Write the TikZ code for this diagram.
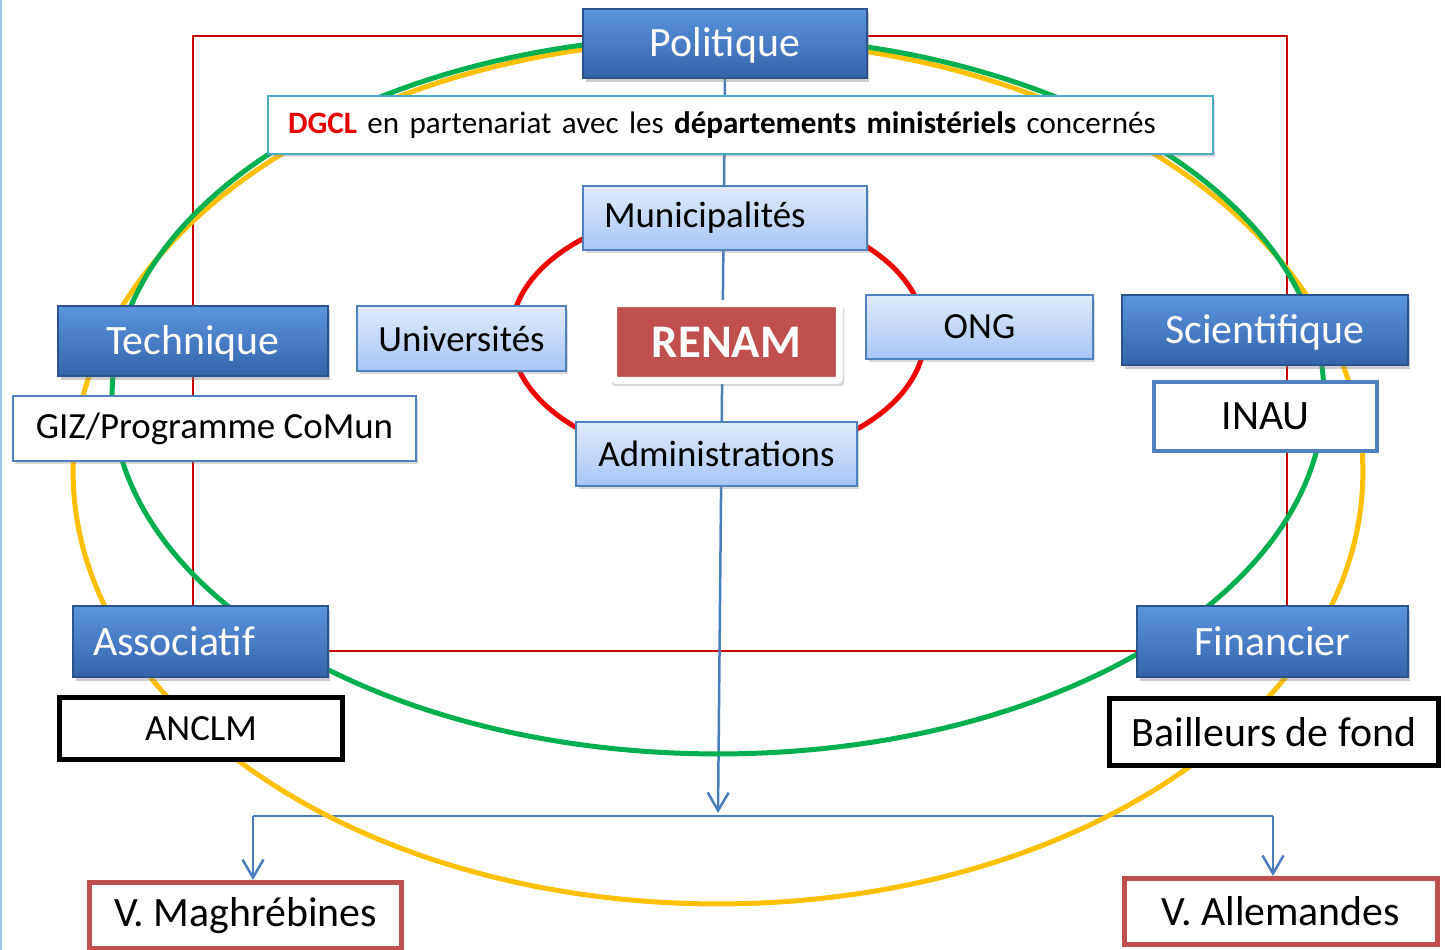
\documentclass[tikz,border=0pt]{standalone}
\usepackage{fontspec}
\setmainfont{Carlito}
\usetikzlibrary{shadows, backgrounds, arrows.meta}

\definecolor{poletop}{RGB}{92, 148, 222}
\definecolor{polebot}{RGB}{52, 100, 170}
\definecolor{poleedge}{RGB}{44, 84, 140}
\definecolor{acttop}{RGB}{224, 235, 252}
\definecolor{actbot}{RGB}{166, 198, 245}
\definecolor{actedge}{RGB}{79, 129, 189}
\definecolor{dgcledge}{RGB}{75, 172, 198}
\definecolor{dgclred}{RGB}{230, 0, 0}
\definecolor{renamred}{RGB}{192, 80, 77}
\definecolor{framered}{RGB}{200, 0, 0}
\definecolor{ringgreen}{RGB}{0, 176, 80}
\definecolor{ringyellow}{RGB}{255, 192, 0}
\definecolor{ringred}{RGB}{240, 0, 0}
\definecolor{linkblue}{RGB}{74, 126, 187}
\definecolor{edgeblue}{RGB}{160, 196, 236}

\begin{document}
\begin{tikzpicture}[x = 0.02cm, y = -0.02cm,
		grand/.style = {font = \fontsize{23.8}{28}\selectfont},
		moyen/.style = {font = \fontsize{21}{25}\selectfont},
		pole/.style = {grand, rectangle, draw = poleedge, line width = 0.8pt, top color = poletop, bottom color = polebot, text = white, text height = 0.54cm, text depth = 0cm, drop shadow = {opacity = 0.4, shadow xshift = 0.05cm, shadow yshift = -0.08cm}},
		acteur/.style = {moyen, rectangle, draw = actedge, line width = 1.2pt, top color = acttop, bottom color = actbot, drop shadow = {opacity = 0.3, shadow xshift = 0.05cm, shadow yshift = -0.07cm}},
		membre/.style = {rectangle, fill = white, draw = #1},
		renam/.style = {rectangle, fill = renamred, draw = white, line width = 0.14cm, rounded corners = 0.06cm, text = white, font = \fontsize{26.6}{30}\selectfont\bfseries, drop shadow = {opacity = 0.3, shadow scale = 1.03, shadow xshift = 0.03cm, shadow yshift = -0.08cm}},
		link/.style = {draw = linkblue, line width = 0.05cm},
		tip/.style = {-{Straight Barb[length = 0.36cm, width = 0.42cm]}},
		ring/.style = {line width = 0.1cm}]
	\useasboundingbox (0, 0) rectangle (1445, 950);

	% poles
	\node[pole, minimum width = 5.68cm, minimum height = 1.38cm] (pol) at (725, 43.5) {Politique};
	\node[pole, minimum width = 5.4cm, minimum height = 1.4cm] (tech) at (193, 341) {Technique};
	\node[pole, minimum width = 5.72cm, minimum height = 1.4cm] (sci) at (1265, 330) {Scientifique};
	\node[pole, minimum width = 5.1cm, minimum height = 1.42cm, text width = 4.3cm, inner xsep = 0.4cm, align = left] (asso) at (200.5, 641.5) {Associatif};
	\node[pole, minimum width = 5.42cm, minimum height = 1.42cm] (fin) at (1272.5, 641.5) {Financier};

	% acteurs
	\node[membre = dgcledge, line width = 1.2pt, minimum height = 1.16cm, text width = 18.1cm, inner xsep = 0.4cm, align = left, font = \fontsize{17.7}{21}\selectfont, drop shadow = {opacity = 0.3, shadow xshift = 0.05cm, shadow yshift = -0.06cm}] (dgcl) at (740.5, 125)
		{{\color{dgclred}\bfseries DGCL} en partenariat avec les \textbf{départements ministériels} concernés};
	\node[acteur, minimum height = 1.28cm, text width = 4.84cm, inner xsep = 0.42cm, align = left] (muni) at (725, 218) {Municipalités};
	\node[acteur, minimum width = 4.18cm, minimum height = 1.3cm] (univ) at (461.5, 338.5) {Universités};
	\node[acteur, minimum width = 4.54cm, minimum height = 1.28cm] (ong) at (979.5, 327) {ONG};
	\node[acteur, minimum width = 5.62cm, minimum height = 1.28cm] (admin) at (716.5, 454) {Administrations};
	\node[renam, minimum width = 4.52cm, minimum height = 1.54cm] (renam) at (726.5, 342) {RENAM};

	% membres
	\node[membre = actedge, moyen, line width = 1.2pt, minimum width = 8.06cm, minimum height = 1.3cm, drop shadow = {opacity = 0.3, shadow xshift = 0.04cm, shadow yshift = -0.06cm}] (giz) at (214.5, 428.5) {GIZ/Programme CoMun};
	\node[membre = actedge, grand, line width = 0.08cm, minimum width = 4.46cm, minimum height = 1.38cm] (inau) at (1265.5, 416.5) {INAU};
	\node[membre = black, moyen, line width = 0.1cm, minimum width = 5.66cm, minimum height = 1.24cm] (anclm) at (201, 728.5) {ANCLM};
	\node[membre = black, grand, line width = 0.1cm, minimum width = 6.58cm, minimum height = 1.34cm] (bail) at (1274, 732) {Bailleurs de fond};
	\node[membre = renamred, grand, line width = 0.1cm, minimum width = 6.24cm, minimum height = 1.32cm] (magh) at (245.5, 915.5) {V. Maghrébines};
	\node[membre = renamred, grand, line width = 0.1cm, minimum width = 6.26cm, minimum height = 1.32cm] (alle) at (1281, 911.5) {V. Allemandes};

	\coordinate (fork) at (718, 813);
	\coordinate (forkL) at (253, 816);
	\coordinate (forkR) at (1273, 816);

	\begin{scope}[on background layer]
		\fill[white] (0, 0) rectangle (1445, 950);
		\draw[edgeblue, line width = 0.04cm] (1, 0) -- (1, 950);
		\draw[framered, line width = 0.04cm] (193, 36) rectangle (1287, 651);
		% liens
		\draw[link, tip] (pol.south) -- (fork);
		\draw[link] (forkL) -- (forkR);
		\draw[link, tip] (forkL) -- (forkL |- magh.north);
		\draw[link, tip] (forkR) -- (forkR |- alle.north);
		% cercles
		\draw[ring, ringyellow] (718, 472) ellipse [x radius = 12.9cm, y radius = 8.64cm];
		\draw[ring, ringgreen] (718, 395) ellipse [x radius = 12.12cm, y radius = 7.18cm];
		\draw[ring, ringred] (718, 335) ellipse [x radius = 4.14cm, y radius = 2.54cm];
	\end{scope}
\end{tikzpicture}
\end{document}
